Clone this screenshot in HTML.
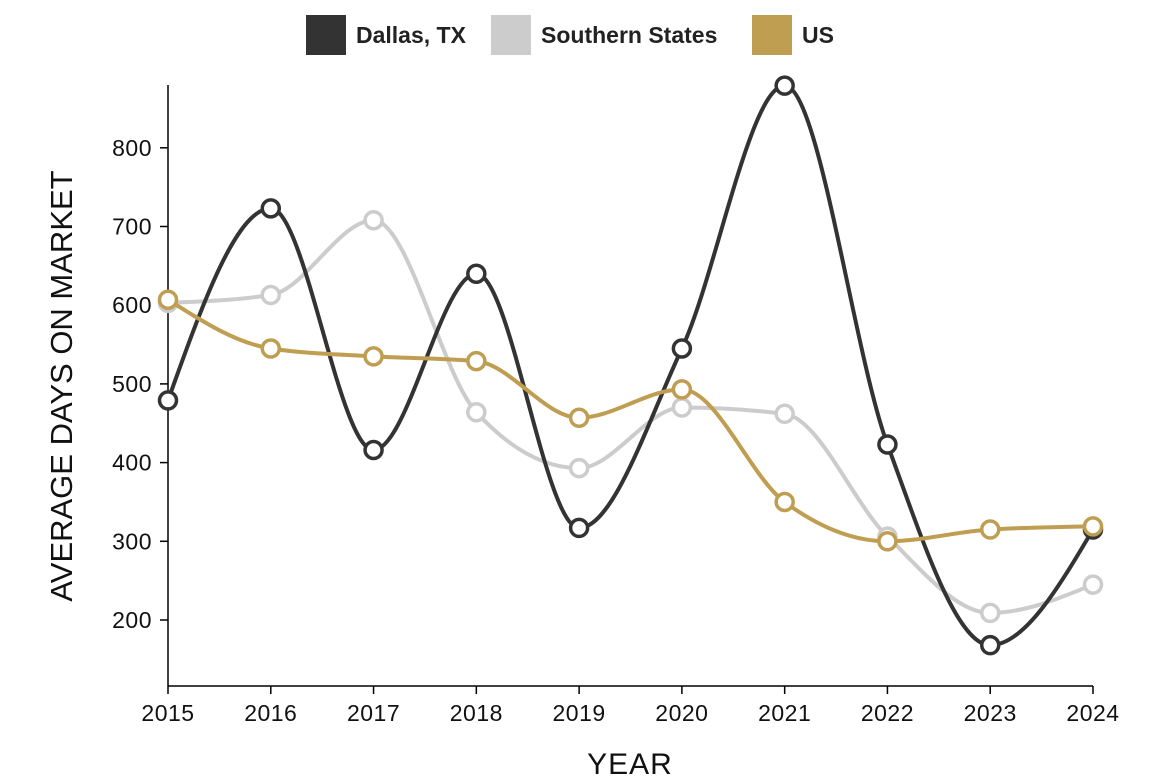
<!DOCTYPE html>
<html><head><meta charset="utf-8"><style>
body{margin:0;background:#fff;font-family:"Liberation Sans",sans-serif}
</style></head><body>
<svg id="c" width="1160" height="778" xmlns="http://www.w3.org/2000/svg"></svg>
<script>
const years=[2015,2016,2017,2018,2019,2020,2021,2022,2023,2024];
const dallas=[479,723,416,640,317,545,879,423,168,315];
const southern=[603,613,708,464,393,470,462,306,209,245];
const us=[607,545,535,529,457,493,350,300,315,319];
const yTicks=[200,300,400,500,600,700,800];
const seriesNames=["Dallas, TX","Southern States","US"];
const colors=["#333333","#cccccc","#bf9e52"];
const svg=document.getElementById('c');
const NS="http://www.w3.org/2000/svg";
const x=i=>168+i*(1093-168)/(years.length-1);
const y=v=>777.4-0.787*v;
function el(t,a,p){const e=document.createElementNS(NS,t);for(const k in a)e.setAttribute(k,a[k]);(p||svg).appendChild(e);return e;}
const ax=el('line',{x1:168,y1:85,x2:168,y2:686,stroke:'#000','stroke-width':1.5});


const bx=el('line',{x1:168,y1:686,x2:1093,y2:686,stroke:'#000','stroke-width':1.5});


yTicks.forEach(v=>{
 el('line',{x1:160,y1:y(v),x2:168,y2:y(v),stroke:'#000','stroke-width':1.5});
 const t=el('text',{x:152,y:y(v)+8,'text-anchor':'end','font-size':23,'letter-spacing':0.5,fill:'#111'});
 t.textContent=v;
 
 
});
years.forEach((yr,i)=>{
 el('line',{x1:x(i),y1:686,x2:x(i),y2:694,stroke:'#000','stroke-width':1.5});
 const t=el('text',{x:x(i),y:721,'text-anchor':'middle','font-size':23,'letter-spacing':0.5,fill:'#111'});
 t.textContent=yr;
 
 
});
const yt=el('text',{x:0,y:0,transform:'translate(72,386) rotate(-90)','text-anchor':'middle','font-size':31,fill:'#111'});
yt.textContent='AVERAGE DAYS ON MARKET';


const xt=el('text',{x:630,y:774,'text-anchor':'middle','font-size':30,'letter-spacing':1,fill:'#111'});
xt.textContent='YEAR';


function sign(v){return v<0?-1:1;}
function path(vals){
 const p=vals.map((v,i)=>[x(i),y(v)]);
 const n=p.length,m=[];
 const d=[];for(let i=0;i<n-1;i++)d.push((p[i+1][1]-p[i][1])/(p[i+1][0]-p[i][0]));
 for(let i=0;i<n;i++){
  if(i===0||i===n-1)continue;
  const s0=d[i-1],s1=d[i],h0=p[i][0]-p[i-1][0],h1=p[i+1][0]-p[i][0];
  const pp=(s0*h1+s1*h0)/(h0+h1);
  m[i]=(sign(s0)+sign(s1))*Math.min(Math.abs(s0),Math.abs(s1),0.5*Math.abs(pp))||0;
 }
 const h=p[1][0]-p[0][0];
 m[0]=(3*d[0]-m[1])/2; m[n-1]=(3*d[n-2]-m[n-2])/2;
 let s=`M${p[0][0]},${p[0][1]}`;
 for(let i=0;i<n-1;i++){
  const dx=(p[i+1][0]-p[i][0])/3;
  s+=`C${p[i][0]+dx},${p[i][1]+dx*m[i]},${p[i+1][0]-dx},${p[i+1][1]-dx*m[i+1]},${p[i+1][0]},${p[i+1][1]}`;
 }
 return s;
}
[southern,dallas,us].forEach((vals,k)=>{
 const idx=[1,0,2][k];
 const g=el('g',{});
 
 
 el('path',{d:path(vals),fill:'none',stroke:colors[idx],'stroke-width':4},g);
 vals.forEach((v,i)=>{
  const c=el('circle',{cx:x(i),cy:y(v),r:8.5,fill:'#fff',stroke:colors[idx],'stroke-width':3.5},g);
  
  
 });
});
const lx=[306,491,752];
seriesNames.forEach((n,i)=>{
 const r=el('rect',{x:lx[i],y:15,width:40,height:40,fill:colors[i]});
 
 
 const t=el('text',{x:lx[i]+50,y:43,'font-size':23,'font-weight':'bold',fill:'#222'});
 t.textContent=n;
 
 
});
</script>
</body></html>
